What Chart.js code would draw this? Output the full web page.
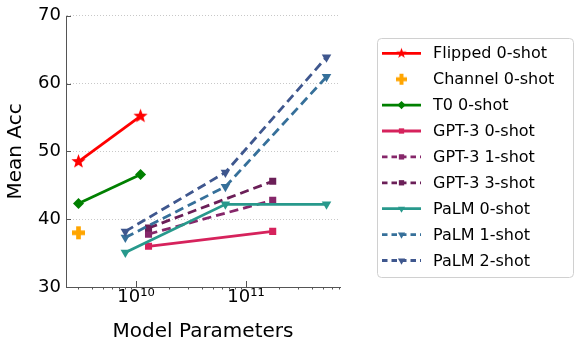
<!DOCTYPE html>
<html>
<head>
<meta charset="utf-8">
<script src="https://cdn.jsdelivr.net/npm/chart.js@4"></script>
<style>
  html,body{margin:0;padding:0;background:#fff;}
  #wrap{width:581px;height:348px;}
</style>
</head>
<body>
<div id="wrap"><canvas id="c" width="581" height="348"></canvas></div>
<script>
// values (x = model parameters, y = mean acc)
const flippedX = [3e9, 11e9];
const flippedY = [48.5, 55.2];
const channelX = [3e9];
const channelY = [38.0];
const t0X = [3e9, 11e9];
const t0Y = [42.3, 46.6];
const gpt3X = [13e9, 175e9];
const gpt3Zero = [36.0, 38.2];
const gpt3One = [37.8, 42.8];
const gpt3Three = [38.7, 45.6];
const palmX = [8e9, 65e9, 540e9];
const palmZero = [35.1, 42.2, 42.2];
const palmOne = [37.3, 44.8, 61.0];
const palmTwo = [38.2, 46.9, 63.9];

const xTickValues = [3e9,4e9,5e9,6e9,7e9,8e9,9e9,1e10,2e10,3e10,4e10,5e10,6e10,7e10,8e10,9e10,1e11,2e11,3e11,4e11,5e11,6e11,7e11];
const xMajor = [1e10, 1e11];
const xMajorLabels = ['10¹⁰', '10¹¹'];
const yTicks = [30, 40, 50, 60, 70];

const FONT = "'DejaVu Sans', sans-serif";

// small canvases for markers matplotlib has but Chart.js lacks
function markerCanvas(size, draw){
  const c = document.createElement('canvas');
  c.width = size; c.height = size;
  const g = c.getContext('2d');
  draw(g, size/2);
  return c;
}
function star(color, r){
  return markerCanvas(Math.ceil(r*2)+2, (g, m)=>{
    g.beginPath();
    for(let i=0;i<10;i++){
      const rr = i%2 ? r*0.42 : r;
      const a = -Math.PI/2 + i*Math.PI/5;
      g.lineTo(m + rr*Math.cos(a), m + rr*Math.sin(a));
    }
    g.closePath(); g.fillStyle = color; g.fill();
  });
}
function plus(color, r){
  return markerCanvas(Math.ceil(r*2)+2, (g, m)=>{
    const t = r*0.36;
    g.fillStyle = color;
    g.fillRect(m-r, m-t, 2*r, 2*t);
    g.fillRect(m-t, m-r, 2*t, 2*r);
  });
}

const series = [
  {label:'Flipped 0-shot', xs:flippedX, ys:flippedY, color:'#ff0000', style:star('#ff0000',7.5), legendStyle:star('#ff0000',5.5), r:7, dash:[]},
  {label:'Channel 0-shot', xs:channelX, ys:channelY, color:'#ffa500', style:plus('#ffa500',6.5), legendStyle:plus('#ffa500',5.5), r:7, dash:[], noLine:true},
  {label:'T0 0-shot', xs:t0X, ys:t0Y, color:'#008000', style:'rectRot', r:5.5, dash:[]},
  {label:'GPT-3 0-shot', xs:gpt3X, ys:gpt3Zero, color:'#d6225c', style:'rect', r:5, dash:[]},
  {label:'GPT-3 1-shot', xs:gpt3X, ys:gpt3One, color:'#86276a', style:'rect', r:5, dash:[9,5]},
  {label:'GPT-3 3-shot', xs:gpt3X, ys:gpt3Three, color:'#6b1f58', style:'rect', r:5, dash:[9,5]},
  {label:'PaLM 0-shot', xs:palmX, ys:palmZero, color:'#28998c', style:'triangle', r:5.5, rot:180, dash:[]},
  {label:'PaLM 1-shot', xs:palmX, ys:palmOne, color:'#36709a', style:'triangle', r:5.5, rot:180, dash:[9,5]},
  {label:'PaLM 2-shot', xs:palmX, ys:palmTwo, color:'#3f578e', style:'triangle', r:5.5, rot:180, dash:[9,5]},
];

const datasets = series.map((s, i)=>({
  label: s.label,
  data: s.xs.map((x, k)=>({x, y: s.ys[k]})),
  borderColor: s.color,
  backgroundColor: s.color,
  borderWidth: 2.8,
  borderDash: s.dash,
  showLine: !s.noLine,
  pointStyle: s.style,
  pointRadius: s.r,
  pointRotation: s.rot || 0,
  pointBorderWidth: 0,
  pointBackgroundColor: s.color,
  order: series.length - i,
}));

// solid left spine, inward ticks + boxed legend drawn like matplotlib
const mplBits = {
  id: 'mplBits',
  afterDraw(chart){
    const {ctx, chartArea: a, scales: {x, y}} = chart;
    ctx.save();
    ctx.strokeStyle = '#555'; ctx.lineWidth = 1;
    const lx = Math.round(a.left) + 0.5;
    ctx.beginPath(); ctx.moveTo(lx, a.top); ctx.lineTo(lx, a.bottom); ctx.stroke();
    yTicks.forEach(v=>{
      const py = Math.round(y.getPixelForValue(v)) + 0.5;
      ctx.beginPath(); ctx.moveTo(a.left, py); ctx.lineTo(a.left + 5, py); ctx.stroke();
    });
    xTickValues.forEach(v=>{
      const px = Math.round(x.getPixelForValue(v)) + 0.5;
      const major = xMajor.includes(v);
      ctx.beginPath();
      if(major){ ctx.moveTo(px, a.bottom); ctx.lineTo(px, a.bottom - 6); }
      else { ctx.moveTo(px, a.bottom); ctx.lineTo(px, a.bottom + 2.5); }
      ctx.stroke();
    });

    // legend
    const bx = 377.5, by = 38.5, bw = 196, bh = 239, rowH = 25.9, row0 = 53.3;
    ctx.beginPath();
    ctx.roundRect(bx, by, bw, bh, 4);
    ctx.fillStyle = 'rgba(255,255,255,0.8)'; ctx.fill();
    ctx.strokeStyle = '#d0d0d0'; ctx.stroke();
    ctx.font = '16px ' + FONT;
    ctx.textBaseline = 'middle';
    series.forEach((s, i)=>{
      const cy = row0 + i*rowH;
      if(!s.noLine){
        ctx.beginPath();
        ctx.setLineDash(s.dash.length ? [5.5, 4] : []);
        ctx.strokeStyle = s.color; ctx.lineWidth = 2.8;
        ctx.moveTo(382, cy); ctx.lineTo(421, cy); ctx.stroke();
        ctx.setLineDash([]);
      }
      ctx.fillStyle = s.color;
      Chart.helpers.drawPoint(ctx, {
        pointStyle: s.legendStyle || s.style,
        radius: s.r * 0.75,
        rotation: s.rot || 0,
        borderWidth: 0,
      }, 401.5, cy);
      ctx.fillStyle = '#000';
      ctx.fillText(s.label, 433, cy + 1);
    });
    ctx.restore();
  }
};

new Chart(document.getElementById('c'), {
  type: 'scatter',
  data: { datasets },
  options: {
    responsive: false,
    animation: false,
    devicePixelRatio: 1,
    layout: { padding: { top: 14, right: 241, left: 0, bottom: 0 } },
    plugins: { legend: { display: false }, tooltip: { enabled: false } },
    scales: {
      x: {
        type: 'logarithmic',
        min: 2.31e9, max: 7.16e11,
        afterBuildTicks: s => { s.ticks = xTickValues.map(v=>({value: v})); },
        afterFit: s => { s.height = 61; },
        ticks: {
          autoSkip: false, maxRotation: 0, minRotation: 0, padding: 0,
          color: '#000', font: { family: FONT, size: 18 },
          callback: v => { const k = xMajor.indexOf(v); return k >= 0 ? xMajorLabels[k] : ''; }
        },
        grid: { drawOnChartArea: false, drawTicks: false },
        border: { color: '#555', width: 1 },
        title: { display: true, text: 'Model Parameters', color: '#000', font: { family: FONT, size: 20 }, padding: { top: 7 } }
      },
      y: {
        min: 30, max: 70,
        afterBuildTicks: s => { s.ticks = yTicks.map(v=>({value: v})); },
        afterFit: s => { s.width = 66; },
        ticks: { color: '#000', font: { family: FONT, size: 18 }, padding: 5 },
        grid: {
          drawTicks: false,
          color: c => c.tick && c.tick.value === 30 ? 'rgba(0,0,0,0)' : '#c8c8c8',
          lineWidth: 1,
        },
        border: { color: 'rgba(0,0,0,0)', width: 1, dash: [1, 2] },
        title: { display: true, text: 'Mean Acc', color: '#000', font: { family: FONT, size: 20 }, padding: { bottom: 2 } }
      }
    }
  },
  plugins: [mplBits]
});
</script>
</body>
</html>
